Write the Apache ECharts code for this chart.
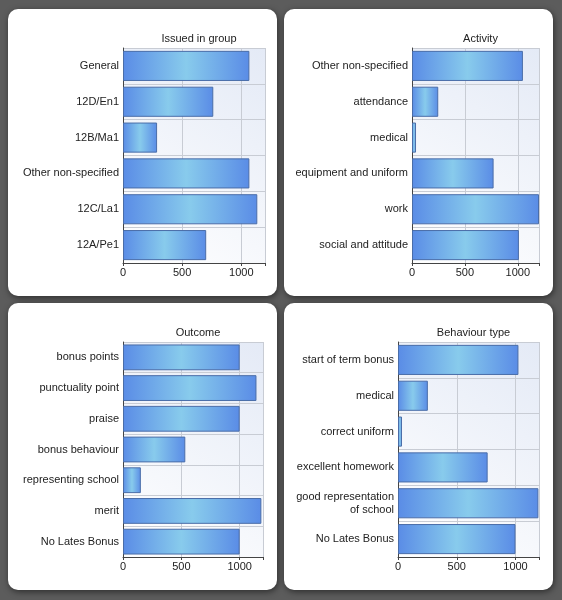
<!DOCTYPE html>
<html><head><meta charset="utf-8">
<script src="https://cdn.jsdelivr.net/npm/echarts@6/dist/echarts.min.js"></script>
<style>html,body{margin:0;padding:0;background:#5c5c5c;}#c{width:562px;height:600px;}</style>
</head><body><div id="c"></div>
<script>
const titles = ["Issued in group","Activity","Outcome","Behaviour type"];
const cats1 = ["General","12D/En1","12B/Ma1","Other non-specified","12C/La1","12A/Pe1"];
const vals1 = [1068,763,288,1068,1135,703];
const cats2 = ["Other non-specified","attendance","medical","equipment and uniform","work","social and attitude"];
const vals2 = [1048,248,38,771,1200,1010];
const cats3 = ["bonus points","punctuality point","praise","bonus behaviour","representing school","merit","No Lates Bonus"];
const vals3 = [1000,1144,1000,534,153,1186,1000];
const cats4 = ["start of term bonus","medical","correct uniform","excellent homework","good representation\nof school","No Lates Bonus"];
const vals4 = [1025,254,34,763,1195,1000];
const xTicks = [0,500,1000];

const cats=[cats1,cats2,cats3,cats4], vals=[vals1,vals2,vals3,vals4];
const cards=[[8,9],[284,9],[8,303],[284,303]];
const grids=[
 {left:123,top:48,width:142,height:215},
 {left:412,top:48,width:127,height:215},
 {left:123,top:342,width:140,height:215},
 {left:398,top:342,width:141,height:215}];
const titleY=[35,35,329,329];
const bg={type:'linear',x:0,y:1,x2:1,y2:0,colorStops:[{offset:0,color:'#ffffff'},{offset:1,color:'#e4eaf6'}]};
const barColor={type:'linear',x:0,y:0,x2:1,y2:0,colorStops:[{offset:0,color:'#5a8ce6'},{offset:0.5,color:'#88cbec'},{offset:1,color:'#5a8ce6'}]};
const graphic=[];
cards.forEach(c=>graphic.push({type:'rect',z:-10,shape:{x:c[0],y:c[1],width:269,height:287,r:10},
  style:{fill:'#ffffff',shadowBlur:6,shadowColor:'rgba(0,0,0,0.5)',shadowOffsetX:1,shadowOffsetY:2}}));
const option={animation:false,graphic:graphic,
 title:titles.map((t,i)=>({text:t,left:grids[i].left+grids[i].width/2,top:titleY[i]-7,textAlign:'center',
   textStyle:{fontSize:11,fontWeight:'normal',color:'#222',fontFamily:'Liberation Sans'}})),
 grid:grids.map(g=>Object.assign({show:true,backgroundColor:bg,borderWidth:0},g)),
 xAxis:grids.map((g,i)=>({type:'value',gridIndex:i,min:0,max:1200,interval:500,
   axisLine:{show:true,lineStyle:{color:'#444'}},axisTick:{show:true,length:3,lineStyle:{color:'#444'}},
   splitLine:{show:true,lineStyle:{color:'#c8ccd4'}},
   axisLabel:{fontSize:11,color:'#222',margin:4,fontFamily:'Liberation Sans',
     formatter:v=>xTicks.includes(v)?String(v):''}})),
 yAxis:grids.map((g,i)=>({type:'category',gridIndex:i,inverse:true,data:cats[i],
   axisLine:{show:true,lineStyle:{color:'#444'}},axisTick:{show:false},
   splitLine:{show:true,lineStyle:{color:'#c8ccd4'}},
   axisLabel:{fontSize:11,color:'#222',margin:4,fontFamily:'Liberation Sans',lineHeight:13}})),
 series:vals.map((v,i)=>({type:'bar',xAxisIndex:i,yAxisIndex:i,data:v,barCategoryGap:'16%',
   itemStyle:{color:barColor,borderColor:'#4a6da8',borderWidth:1}}))
};
const ch=echarts.init(document.getElementById('c'));
ch.setOption(option);
</script></body></html>
